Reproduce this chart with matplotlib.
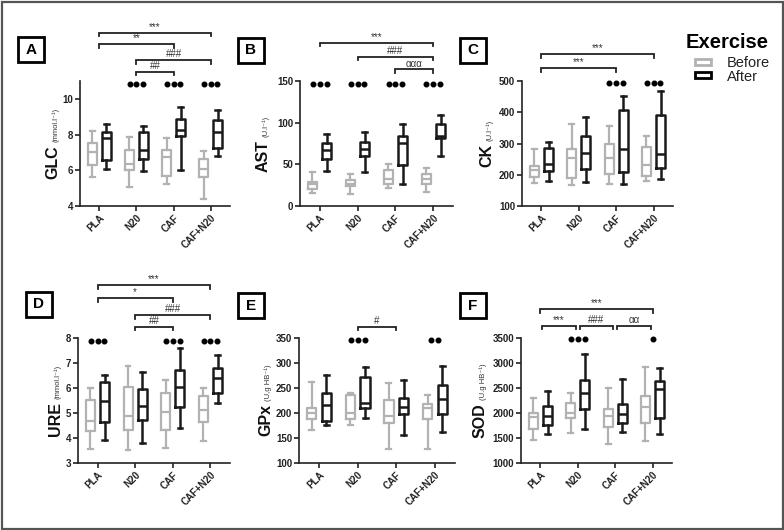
import matplotlib
matplotlib.use('Agg')
import matplotlib.pyplot as plt
from matplotlib.patches import Rectangle
from matplotlib.transforms import blended_transform_factory, offset_copy

plt.rcParams['font.family'] = ['Liberation Sans', 'DejaVu Sans']

groups = ['PLA', 'N20', 'CAF', 'CAF+N20']

# box summaries per group: [min, q1, median, q3, max]
glc_before = [[5.63, 6.28, 7.02, 7.54, 8.22], [5.07, 6.04, 6.37, 7.15, 7.85],
              [5.21, 5.68, 6.72, 7.15, 7.80], [4.37, 5.63, 6.09, 6.65, 7.10]]
glc_after = [[6.06, 6.59, 7.80, 8.17, 8.59], [5.96, 6.65, 7.15, 8.17, 8.50],
             [6.00, 7.91, 8.28, 8.87, 9.52], [6.79, 7.23, 8.17, 8.82, 9.37]]

ast_before = [[15.6, 20.8, 26.0, 28.8, 40.8], [14.8, 23.6, 26.8, 30.8, 38.0],
              [21.6, 26.8, 32.0, 42.8, 50.8], [16.8, 26.0, 32.8, 38.0, 45.6]]
ast_after = [[42.0, 56.8, 67.6, 76.0, 86.8], [40.8, 59.6, 68.8, 76.8, 88.8],
             [26.8, 48.8, 75.6, 83.6, 98.0], [59.6, 81.6, 83.6, 98.8, 108.8]]

ck_before = [[175, 193, 214, 228, 284], [166, 191, 255, 284, 364],
             [170, 202, 254, 300, 356], [180, 196, 230, 289, 324]]
ck_after = [[180, 212, 234, 287, 305], [177, 217, 270, 324, 386],
            [170, 209, 281, 407, 452], [185, 223, 268, 391, 469]]

ure_before = [[3.56, 4.29, 4.68, 5.52, 6.01], [3.53, 4.33, 4.90, 6.05, 6.87],
              [3.60, 4.33, 5.06, 5.81, 6.32], [3.89, 4.66, 5.12, 5.69, 6.01]]
ure_after = [[3.93, 4.66, 5.48, 6.25, 6.54], [3.80, 4.72, 5.30, 5.96, 6.65],
             [4.39, 5.25, 6.05, 6.71, 7.60], [5.39, 5.81, 6.41, 6.81, 7.31]]

gpx_before = [[167, 189, 200, 211, 263], [177, 189, 200, 236, 241],
              [129, 180, 195, 227, 261], [129, 188, 211, 218, 237]]
gpx_after = [[176, 184, 216, 240, 276], [191, 210, 221, 272, 293],
             [157, 199, 212, 230, 267], [163, 199, 228, 257, 295]]

sod_before = [[1470, 1680, 1920, 2000, 2310], [1600, 1908, 2000, 2208, 2408],
              [1388, 1720, 1940, 2088, 2508], [1434, 1808, 2120, 2340, 2920]]
sod_after = [[1580, 1760, 1950, 2150, 2450], [1674, 2088, 2408, 2668, 3174],
             [1620, 1808, 1988, 2188, 2674], [1588, 1900, 2474, 2634, 2900]]

# significance dots (group index -> count) and brackets (from, to, label)
glc_dots = {1: 3, 2: 3, 3: 3}
ast_dots = {0: 3, 1: 3, 2: 3, 3: 3}
ck_dots = {2: 3, 3: 3}
ure_dots = {0: 3, 2: 3, 3: 3}
gpx_dots = {1: 3, 3: 2}
sod_dots = {1: 3, 3: 1}

glc_brackets = [(0, 3, '***'), (0, 2, '**'), (1, 3, '###'), (1, 2, '##')]
ast_brackets = [(0, 3, '***'), (1, 3, '###'), (2, 3, 'ααα')]
ck_brackets = [(0, 3, '***'), (0, 2, '***')]
ure_brackets = [(0, 3, '***'), (0, 2, '*'), (1, 3, '###'), (1, 2, '##')]
gpx_brackets = [(1, 2, '#')]
sod_brackets = [(0, 3, '***'), (0, 1, '***'), (1, 2, '###'), (2, 3, 'αα')]

panels = [
    dict(letter='A', name='GLC', unit='(mmol.l⁻¹)', before=glc_before, after=glc_after,
         ylim=(4, 11), yticks=[4, 6, 8, 10], dots=glc_dots, doty=10.83,
         brackets=glc_brackets, bry=[1.386, 1.296, 1.168, 1.074],
         rect=(80, 230, 81, 206), box=(18, 37), labdx=-23),
    dict(letter='B', name='AST', unit='(U.l⁻¹)', before=ast_before, after=ast_after,
         ylim=(0, 150), yticks=[0, 50, 100, 150], dots=ast_dots, doty=146,
         brackets=ast_brackets, bry=[1.306, 1.194, 1.094],
         rect=(300, 453, 81, 206), box=(238, 38), labdx=-32),
    dict(letter='C', name='CK', unit='(U.l⁻¹)', before=ck_before, after=ck_after,
         ylim=(100, 500), yticks=[100, 200, 300, 400, 500], dots=ck_dots, doty=493,
         brackets=ck_brackets, bry=[1.216, 1.102],
         rect=(522, 673, 81, 206), box=(460, 38), labdx=-31),
    dict(letter='D', name='URE', unit='(mmol.l⁻¹)', before=ure_before, after=ure_after,
         ylim=(3, 8), yticks=[3, 4, 5, 6, 7, 8], dots=ure_dots, doty=7.88,
         brackets=ure_brackets, bry=[1.424, 1.318, 1.184, 1.090],
         rect=(78, 230, 338, 463), box=(26, 292), labdx=-18),
    dict(letter='E', name='GPx', unit='(U,g HB⁻¹)', before=gpx_before, after=gpx_after,
         ylim=(100, 350), yticks=[100, 150, 200, 250, 300, 350], dots=gpx_dots, doty=346,
         brackets=gpx_brackets, bry=[1.090],
         rect=(299, 455, 338, 463), box=(238, 293), labdx=-29),
    dict(letter='F', name='SOD', unit='(U.g HB⁻¹)', before=sod_before, after=sod_after,
         ylim=(1000, 3500), yticks=[1000, 1500, 2000, 2500, 3000, 3500], dots=sod_dots, doty=3480,
         brackets=sod_brackets, bry=[1.232, 1.098, 1.098, 1.098],
         rect=(521, 672, 338, 463), box=(460, 293), labdx=-36),
]

W, H = 784, 530
fig = plt.figure(figsize=(W / 100, H / 100), dpi=100)

GREY = '#b2b2b2'
DARK = '#1a1a1a'


def stats(rows):
    return [dict(whislo=r[0], q1=r[1], med=r[2], q3=r[3], whishi=r[4]) for r in rows]


def draw_boxes(ax, rows, pos, color, lw):
    props = dict(color=color, linewidth=lw)
    ax.bxp(stats(rows), positions=pos, widths=0.24, capwidths=0.13, showfliers=False,
           patch_artist=False, boxprops=props, whiskerprops=props, capprops=props,
           medianprops=props, manage_ticks=False)


axes = []
for p in panels:
    x0, x1, y0, y1 = p['rect']
    ax = fig.add_axes([x0 / W, 1 - y1 / H, (x1 - x0) / W, (y1 - y0) / H])
    axes.append(ax)
    xs = list(range(len(groups)))
    draw_boxes(ax, p['before'], [x - 0.19 for x in xs], GREY, 1.6)
    draw_boxes(ax, p['after'], [x + 0.19 for x in xs], DARK, 1.8)

    ax.set_xlim(-0.52, 3.52)
    ax.set_ylim(*p['ylim'])
    ax.set_yticks(p['yticks'])
    ax.set_xticks(xs)
    ax.set_xticklabels(groups, rotation=45, ha='right', rotation_mode='anchor')
    for s in ['top', 'right']:
        ax.spines[s].set_visible(False)
    for s in ['left', 'bottom']:
        ax.spines[s].set_linewidth(1.2)
        ax.spines[s].set_color('#222222')
    ax.tick_params(direction='out', length=3.5, width=1.2, color='#222222',
                   labelsize=7, pad=1.5)
    for lab in ax.get_xticklabels() + ax.get_yticklabels():
        lab.set_fontweight('bold')
        lab.set_color('#222222')

    # significance dots
    for g, n in p['dots'].items():
        offs = [(k - (n - 1) / 2) * 0.18 for k in range(n)]
        ax.plot([g + o for o in offs], [p['doty']] * n, 'o', ms=3.3, color='black',
                mec='black', clip_on=False)

    # brackets above the plot
    tr = blended_transform_factory(ax.transData, ax.transAxes)
    adjacent = len(p['brackets']) > 1 and all(b[1] - b[0] == 1 for b in p['brackets'][1:])
    for (a, b, lab), yy in zip(p['brackets'], p['bry']):
        shrink = 0.05 if (b - a == 1 and adjacent) else 0.0
        xa, xb = a + shrink, b - shrink
        ax.plot([xa, xa, xb, xb], [yy - 0.028, yy, yy, yy - 0.028], color='#222222',
                lw=1.3, transform=tr, clip_on=False, solid_joinstyle='miter')
        ax.text((xa + xb) / 2, yy + 0.006, lab, transform=tr, ha='center', va='bottom',
                fontsize=7, color='#333333')

    # panel letter box
    bx, by = p['box']
    fig.add_artist(Rectangle((bx / W, 1 - (by + 25) / H), 26 / W, 25 / H,
                             transform=fig.transFigure, fill=False, lw=2.0, ec='black'))
    fig.text((bx + 13) / W, 1 - (by + 12.5) / H, p['letter'], ha='center', va='center',
             fontsize=11, fontweight='bold')

# two-part y labels: big bold name + small unit, centred on the axis
fig.canvas.draw()
renderer = fig.canvas.get_renderer()
for ax, p in zip(axes, panels):
    tr = offset_copy(ax.transAxes, fig=fig, x=p['labdx'], y=0, units='dots')
    t1 = ax.text(0, 0.5, p['name'], transform=tr, rotation=90, rotation_mode='anchor',
                 ha='left', va='baseline', fontsize=11.5, fontweight='bold', color='#111111')
    t2 = ax.text(0, 0.5, p['unit'], transform=tr, rotation=90, rotation_mode='anchor',
                 ha='left', va='baseline', fontsize=5.5, color='#333333')
    h1 = t1.get_window_extent(renderer).height
    h2 = t2.get_window_extent(renderer).height
    axh = ax.get_window_extent(renderer).height
    gap = 3
    start = 0.5 - (h1 + gap + h2) / 2 / axh
    t1.set_y(start)
    t2.set_y(start + (h1 + gap) / axh)

# legend
fig.text(686 / W, 1 - 48 / H, 'Exercise', fontsize=14.5, fontweight='bold', va='baseline')
fig.add_artist(Rectangle((695 / W, 1 - 64.5 / H), 16 / W, 5.5 / H, transform=fig.transFigure,
                         fill=False, ec=GREY, lw=2.0))
fig.add_artist(Rectangle((695 / W, 1 - 78 / H), 16 / W, 5.5 / H, transform=fig.transFigure,
                         fill=False, ec='black', lw=2.0))
fig.text(727 / W, 1 - 67 / H, 'Before', fontsize=10.5, va='baseline', color='#222222')
fig.text(727 / W, 1 - 81 / H, 'After', fontsize=10.5, va='baseline', color='#222222')

# outer frame
fig.add_artist(Rectangle((1.5 / W, 1.5 / H), (W - 3) / W, (H - 3) / H, transform=fig.transFigure,
                         fill=False, ec='#555555', lw=1.6))

fig.savefig('out.png', dpi=100)
